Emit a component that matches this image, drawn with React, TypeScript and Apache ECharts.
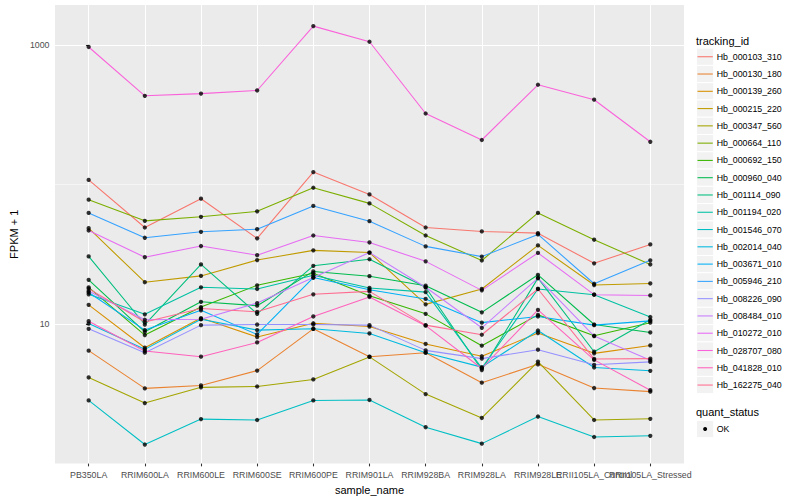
import React, { useEffect, useRef } from "react";
import * as echarts from "echarts";

const FONT = '"Liberation Sans", Arial, Helvetica, sans-serif';

const categories = [
  "PB350LA",
  "RRIM600LA",
  "RRIM600LE",
  "RRIM600SE",
  "RRIM600PE",
  "RRIM901LA",
  "RRIM928BA",
  "RRIM928LA",
  "RRIM928LE",
  "RRII105LA_Control",
  "RRII105LA_Stressed",
];

const trackingIds = [
  "Hb_000103_310",
  "Hb_000130_180",
  "Hb_000139_260",
  "Hb_000215_220",
  "Hb_000347_560",
  "Hb_000664_110",
  "Hb_000692_150",
  "Hb_000960_040",
  "Hb_001114_090",
  "Hb_001194_020",
  "Hb_001546_070",
  "Hb_002014_040",
  "Hb_003671_010",
  "Hb_005946_210",
  "Hb_008226_090",
  "Hb_008484_010",
  "Hb_010272_010",
  "Hb_028707_080",
  "Hb_041828_010",
  "Hb_162275_040",
];

const lineColors = [
  "#F8766D", "#EA8331", "#D89000", "#C09B00", "#A3A500",
  "#7CAE00", "#39B600", "#00BB4E", "#00BF7D", "#00C1A3",
  "#00BFC4", "#00BAE0", "#00B0F6", "#35A2FF", "#9590FF",
  "#C77CFF", "#E76BF3", "#FA62DB", "#FF62BC", "#FF6C91",
];

// FPKM + 1 per sample, in category order
const hb_000103_310 = [108, 49.2, 79.2, 41.1, 123, 85.0, 49.2, 46.1, 44.8, 27.2, 37.2];
const hb_000130_180 = [6.42, 3.44, 3.61, 4.62, 9.21, 5.81, 6.21, 3.78, 5.12, 3.46, 3.26];
const hb_000139_260 = [13.7, 6.74, 11.0, 8.04, 10.1, 9.56, 7.17, 5.85, 8.58, 6.14, 7.0];
const hb_000215_220 = [48.6, 19.9, 22.1, 28.7, 33.7, 32.5, 13.8, 17.8, 36.6, 19.0, 19.5];
const hb_000347_560 = [4.12, 2.7, 3.5, 3.55, 3.99, 5.79, 3.13, 2.11, 5.36, 2.04, 2.08];
const hb_000664_110 = [77.9, 54.9, 58.7, 64.3, 94.9, 73.3, 43.1, 28.5, 62.6, 40.2, 26.7];
const hb_000692_150 = [18.3, 8.31, 13.2, 18.9, 23.1, 15.9, 11.8, 6.97, 11.6, 8.21, 10.2];
const hb_000960_040 = [20.7, 8.77, 14.4, 13.5, 23.8, 22.0, 18.8, 12.1, 22.5, 9.89, 8.67];
const hb_001114_090 = [30.5, 9.89, 26.7, 11.8, 26.1, 29.1, 18.3, 4.66, 21.3, 6.31, 10.7];
const hb_001194_020 = [16.3, 11.7, 18.3, 17.8, 22.3, 18.1, 16.9, 4.81, 17.8, 16.2, 11.2];
const hb_001546_070 = [2.82, 1.36, 2.07, 2.04, 2.82, 2.84, 1.81, 1.38, 2.16, 1.54, 1.57];
const hb_002014_040 = [10.05, 6.56, 10.8, 9.02, 9.21, 8.53, 6.21, 4.89, 8.96, 4.86, 4.6];
const hb_003671_010 = [16.8, 9.02, 12.5, 8.39, 21.5, 17.6, 15.1, 10.2, 11.3, 9.79, 10.5];
const hb_005946_210 = [62.6, 41.5, 45.8, 47.8, 70.3, 54.6, 36.0, 30.4, 43.9, 19.4, 28.6];
const hb_008226_090 = [9.21, 6.21, 9.79, 9.89, 9.89, 9.79, 6.45, 5.63, 6.52, 5.08, 5.33];
const hb_008484_010 = [17.2, 10.7, 10.8, 14.1, 21.5, 32.5, 18.3, 9.37, 21.3, 8.17, 5.47];
const hb_010272_010 = [46.8, 30.1, 36.2, 31.1, 43.1, 38.4, 28.1, 17.4, 32.3, 16.2, 16.0];
const hb_028707_080 = [973, 434, 450, 474, 1374, 1061, 324, 209, 521, 407, 203];
const hb_041828_010 = [10.45, 6.39, 5.81, 7.36, 11.3, 15.6, 9.7, 4.78, 12.6, 5.51, 3.34];
const hb_162275_040 = [17.9, 10.3, 12.9, 12.2, 16.3, 17.1, 9.79, 8.35, 17.8, 5.6, 5.63];

const seriesValues = [
  hb_000103_310, hb_000130_180, hb_000139_260, hb_000215_220, hb_000347_560,
  hb_000664_110, hb_000692_150, hb_000960_040, hb_001114_090, hb_001194_020,
  hb_001546_070, hb_002014_040, hb_003671_010, hb_005946_210, hb_008226_090,
  hb_008484_010, hb_010272_010, hb_028707_080, hb_041828_010, hb_162275_040,
];

const yTickValues = [10, 1000];
const yMinorValues = [100];
const quantStatus = ["OK"];

export default function App() {
  const ref = useRef<HTMLDivElement>(null);

  useEffect(() => {
    if (!ref.current) return;
    const chart = echarts.init(ref.current, null, { renderer: "svg", width: 800, height: 500 });

    const catIdx = categories.map((_, i) => i);
    const evenIdx = catIdx.filter((i) => i % 2 === 0);
    const oddIdx = catIdx.filter((i) => i % 2 === 1);

    const lineSeries = seriesValues.map((vals, k) => ({
      type: "line",
      name: trackingIds[k],
      data: vals.map((v, i) => [i, v]),
      showSymbol: false,
      symbol: "none",
      lineStyle: { color: lineColors[k], width: 1.07 },
      itemStyle: { color: lineColors[k] },
      xAxisIndex: 0,
      z: 2,
      silent: true,
      ...(k === 0
        ? {
            markLine: {
              silent: true,
              symbol: "none",
              z: 1,
              label: { show: false },
              lineStyle: { color: "#FFFFFF", width: 0.53, type: "solid" },
              data: yMinorValues.map((v) => ({ yAxis: v })),
            },
          }
        : {}),
    }));

    const points: number[][] = [];
    seriesValues.forEach((vals) => vals.forEach((v, i) => points.push([i, v])));

    const keySize = 17.28;
    const legendX = 696.5;
    const firstTop = 48.1;
    const graphics: any[] = [];
    graphics.push({
      type: "text",
      x: 696,
      y: 40.7,
      style: { text: "tracking_id", fontSize: 11, fill: "#000000", fontFamily: FONT, verticalAlign: "middle" },
    });
    trackingIds.forEach((id, i) => {
      const top = firstTop + i * keySize;
      graphics.push({
        type: "rect",
        shape: { x: legendX, y: top, width: keySize, height: keySize },
        style: { fill: "#F2F2F2", stroke: "#FFFFFF", lineWidth: 1 },
      });
      graphics.push({
        type: "line",
        shape: { x1: legendX + 1, y1: top + keySize / 2, x2: legendX + keySize - 1, y2: top + keySize / 2 },
        style: { stroke: lineColors[i], lineWidth: 1.07 },
      });
      graphics.push({
        type: "text",
        x: 716.7,
        y: top + keySize / 2,
        style: { text: id, fontSize: 8.8, fill: "#000000", fontFamily: FONT, verticalAlign: "middle" },
      });
    });
    graphics.push({
      type: "text",
      x: 696,
      y: 412.3,
      style: { text: "quant_status", fontSize: 11, fill: "#000000", fontFamily: FONT, verticalAlign: "middle" },
    });
    quantStatus.forEach((s, i) => {
      const top = 420.4 + i * keySize;
      graphics.push({
        type: "rect",
        shape: { x: legendX, y: top, width: keySize, height: keySize },
        style: { fill: "#F2F2F2", stroke: "#FFFFFF", lineWidth: 1 },
      });
      graphics.push({
        type: "circle",
        shape: { cx: legendX + keySize / 2, cy: top + keySize / 2, r: 2 },
        style: { fill: "#000000" },
      });
      graphics.push({
        type: "text",
        x: 716.7,
        y: top + keySize / 2,
        style: { text: s, fontSize: 8.8, fill: "#000000", fontFamily: FONT, verticalAlign: "middle" },
      });
    });

    const labelStyle = {
      formatter: (v: number) => categories[Math.round(v)] ?? "",
      color: "#4D4D4D",
      fontSize: 8.8,
      margin: 6.5,
      hideOverlap: false,
      showMinLabel: true,
      showMaxLabel: true,
      fontFamily: FONT,
    };

    const option: any = {
      animation: false,
      backgroundColor: "#FFFFFF",
      textStyle: { fontFamily: FONT },
      grid: {
        left: 45,
        top: 5,
        width: 639,
        height: 461.7,
        show: true,
        backgroundColor: "#EBEBEB",
        borderWidth: 0,
        containLabel: false,
      },
      xAxis: [
        {
          type: "value",
          min: -0.6,
          max: 10.6,
          position: "bottom",
          axisLine: { show: false },
          axisTick: {
            show: true,
            customValues: catIdx,
            length: 2.75,
            lineStyle: { color: "#333333", width: 1.07 },
          },
          axisLabel: { ...labelStyle, customValues: evenIdx },
          splitLine: { show: true, lineStyle: { color: "#FFFFFF", width: 1.07 } },
          name: "sample_name",
          nameLocation: "middle",
          nameGap: 15,
          nameTextStyle: { fontSize: 11, color: "#000000", fontFamily: FONT },
        },
        {
          type: "value",
          min: -0.6,
          max: 10.6,
          position: "bottom",
          offset: 0,
          axisLine: { show: false },
          axisTick: { show: false, customValues: oddIdx },
          axisLabel: { ...labelStyle, customValues: oddIdx },
          splitLine: { show: false },
        },
      ],
      yAxis: {
        type: "log",
        logBase: 10,
        min: 0.992,
        max: 1948,
        axisLine: { show: false },
        axisTick: {
          show: true,
          customValues: yTickValues,
          length: 2.75,
          lineStyle: { color: "#333333", width: 1.07 },
        },
        axisLabel: {
          customValues: yTickValues,
          formatter: (v: number) => String(v),
          color: "#4D4D4D",
          fontSize: 8.8,
          margin: 5.5,
          showMinLabel: true,
          showMaxLabel: true,
          fontFamily: FONT,
        },
        splitLine: { show: true, lineStyle: { color: "#FFFFFF", width: 1.07 } },
        name: "FPKM + 1",
        nameLocation: "middle",
        nameRotate: 90,
        nameGap: 27,
        nameTextStyle: { fontSize: 11, color: "#000000", fontFamily: FONT },
      },
      series: [
        ...lineSeries,
        {
          type: "scatter",
          name: "quant_status",
          data: points,
          xAxisIndex: 0,
          symbol: "circle",
          symbolSize: 4.3,
          itemStyle: { color: "#000000" },
          z: 3,
          silent: true,
        },
      ],
      graphic: graphics,
    };

    chart.setOption(option);
    return () => chart.dispose();
  }, []);

  return (
    <div
      ref={ref}
      style={{ position: "fixed", left: 0, top: 0, width: 800, height: 500, background: "#fff" }}
    />
  );
}
